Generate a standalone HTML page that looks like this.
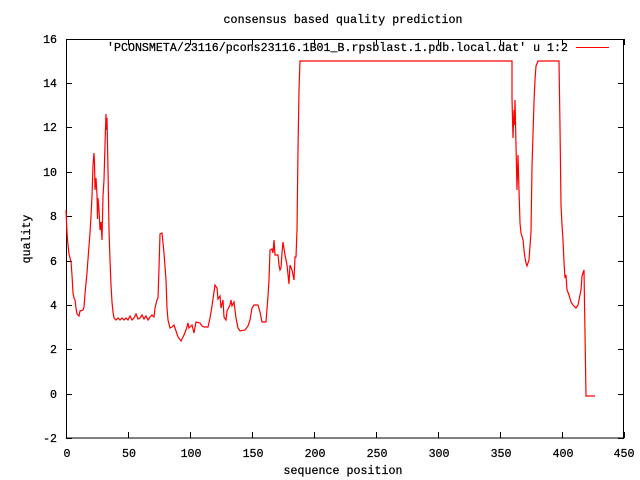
<!DOCTYPE html>
<html><head><style>body{margin:0;background:#fff}svg{display:block}text{font-family:"Liberation Mono",monospace;font-size:11.6px;fill:#000;stroke:#000;stroke-width:0.25}</style></head>
<body>
<svg width="640" height="480" xmlns="http://www.w3.org/2000/svg">
<rect width="640" height="480" fill="#fff"/>
<g stroke="#000" stroke-width="1" fill="none" shape-rendering="crispEdges">
<rect x="66.5" y="39.5" width="557" height="398.5"/>
<path d="M66 438.5h6M624 438.5h-6M66 394.5h6M624 394.5h-6M66 349.5h6M624 349.5h-6M66 305.5h6M624 305.5h-6M66 261.5h6M624 261.5h-6M66 216.5h6M624 216.5h-6M66 172.5h6M624 172.5h-6M66 127.5h6M624 127.5h-6M66 83.5h6M624 83.5h-6M66 39.5h6M624 39.5h-6"/>
<path d="M66.5 438v-6M66.5 39v6M128.5 438v-6M128.5 39v6M190.5 438v-6M190.5 39v6M252.5 438v-6M252.5 39v6M314.5 438v-6M314.5 39v6M376.5 438v-6M376.5 39v6M438.5 438v-6M438.5 39v6M500.5 438v-6M500.5 39v6M562.5 438v-6M562.5 39v6M624.5 438v-6M624.5 39v6"/>
</g>
<g text-anchor="end">
<text x="57" y="442">-2</text><text x="57" y="398">0</text><text x="57" y="353">2</text><text x="57" y="309">4</text><text x="57" y="265">6</text><text x="57" y="220">8</text><text x="57" y="176">10</text><text x="57" y="131">12</text><text x="57" y="87">14</text><text x="57" y="43">16</text>
</g>
<g text-anchor="middle">
<text x="67" y="457">0</text><text x="129" y="457">50</text><text x="191" y="457">100</text><text x="253" y="457">150</text><text x="315" y="457">200</text><text x="377" y="457">250</text><text x="439" y="457">300</text><text x="501" y="457">350</text><text x="563" y="457">400</text><text x="624" y="457">450</text>
<text x="343" y="23" textLength="239">consensus based quality prediction</text>
<text x="343" y="474" textLength="119">sequence position</text>
<text transform="translate(30,239) rotate(-90)">quality</text>
</g>
<text x="568" y="51" text-anchor="end" textLength="461">'PCONSMETA/23116/pcons23116.1B01_B.rpsblast.1.pdb.local.dat' u 1:2</text>
<rect x="576" y="47" width="33" height="1" fill="#f00"/>
<polyline fill="none" stroke="#f00" stroke-width="1.2" points="66,210 67,233 68,245 69,254 71,262 72,275 73,293 74,298 75,300 76,308 77,314 79,316 80,311 83,310 84,307 85,294 87,273 88,259 90,233 91,216 92,196 93,165 94,153 94.5,163 95,190 96,178 97,195 97.5,219 98,198 99,210 100,230 101,222 102,240 103,196 104,180 105,145 106,114 106.5,130 107,118 108,170 109,230 110,260 111,285 112,302 113,312 114,318 116,320 118,318 120,320 122,318 124,320 126,318 128,320 130,316 132,320 134,318 136,314 138,319 140,318 142,315 144,319 146,316 148,320 150,317 152,315 154,317 155,308 157,300 158,298 159,268 160,234 162,233 164,253 166,280 167,308 168,320 170,328 172,327 174,325 176,331 178,337 181,341 184,335 186,330 188,323 189,328 192,325 194,333 196,322 200,323 202,326 204,327 208,327 210,318 212,306 214,292 215,285 217,288 218,299 220,296 221,308 223,300 224,317 226,320 227,311 230,305 231,300 232,306 234,302 236,318 238,328 240,331 245,330 248,326 250,320 252,308 254,305 258,305 260,312 262,322 266,322 268,296 269,280 270,250 272,249 273,253 274,240 275,255 278,255 279,265 280,270 281,268 282,253 283,242 285,255 287,265 289,284 290,265 292,270 294,280 295,257 296,257 297,230 298,150 299,90 300,61 512,61 512,99 513,138 514,110 514.5,125 515,100 516,145 517,190 518,155 519,190 520,223 521,233 523,240 524,250 525,258 526,263 527,266 529,260 531,232 532,167 534,102 535,80 536,66 538,61 559,61 560,127 561,205 562,225 563,240 564,262 565,278 566,275 567,290 569,295 571,302 573,305 576,308 578,305 581,290 582,276 584,270 585,333 586,396 595,396"/>
</svg>
</body></html>
